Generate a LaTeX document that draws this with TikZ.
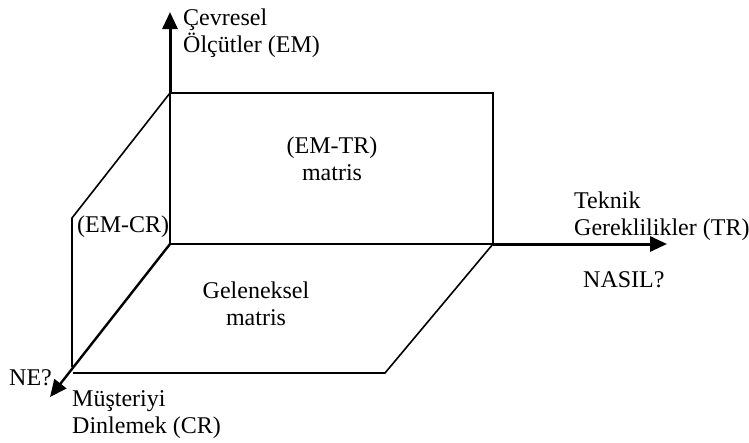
\documentclass[tikz,border=0pt]{standalone}
\usepackage{fontspec}
\setmainfont{Liberation Serif}
\usetikzlibrary{arrows.meta}
\begin{document}
\begin{tikzpicture}[x=1pt,y=-1pt,
  lbl/.style={font=\fontsize{24}{27}\selectfont, inner sep=0pt},
  edge/.style={line width=1.6pt, line join=miter},
  axis/.style={line width=3pt,-{Triangle[length=17pt,width=15pt]}},
  diag/.style={line width=2.4pt,-{Triangle[length=17pt,width=15pt]}}]
\useasboundingbox (0,0) rectangle (749,442);
% corners
\coordinate (O) at (170,244);
\coordinate (TL) at (170,93);
\coordinate (TR) at (493,93);
\coordinate (BR) at (493,244);
\coordinate (LT) at (72,218);
\coordinate (LB) at (72,367);
\coordinate (FL) at (73,373);
\coordinate (FR) at (385,373);
\coordinate (EMtip) at (170,12);
\coordinate (TRtip) at (667,244);
\coordinate (CRtip) at (50,397);
% faces
\draw[edge] (O) -- (TL) -- (TR) -- (BR) -- (O);
\draw[edge] (TL) -- (LT) -- (LB);
\draw[edge] (FL) -- (FR) -- (BR);
% axes
\draw[axis] (TL) -- (EMtip);
\draw[axis] (BR) -- (TRtip);
\draw[diag] (O) -- (CRtip);
% labels (base = baseline of last line)
\node[lbl, anchor=base west, align=left] (em) at (183,52) {Çevresel\\Ölçütler (EM)};
\node[lbl, anchor=base, align=center] (emtr) at (332,180) {(EM-TR)\\matris};
\node[lbl, anchor=base west] (emcr) at (77,232) {(EM-CR)};
\node[lbl, anchor=base west, align=left] (tr) at (574,235) {Teknik\\Gereklilikler (TR)};
\node[lbl, anchor=base west] (nasil) at (583,287) {NASIL?};
\node[lbl, anchor=base, align=center] (gel) at (256,325) {Geleneksel\\matris};
\node[lbl, anchor=base west] (ne) at (9,385) {NE?};
\node[lbl, anchor=base west, align=left] (cr) at (72,433) {Müşteriyi\\Dinlemek (CR)};
\end{tikzpicture}
\end{document}
